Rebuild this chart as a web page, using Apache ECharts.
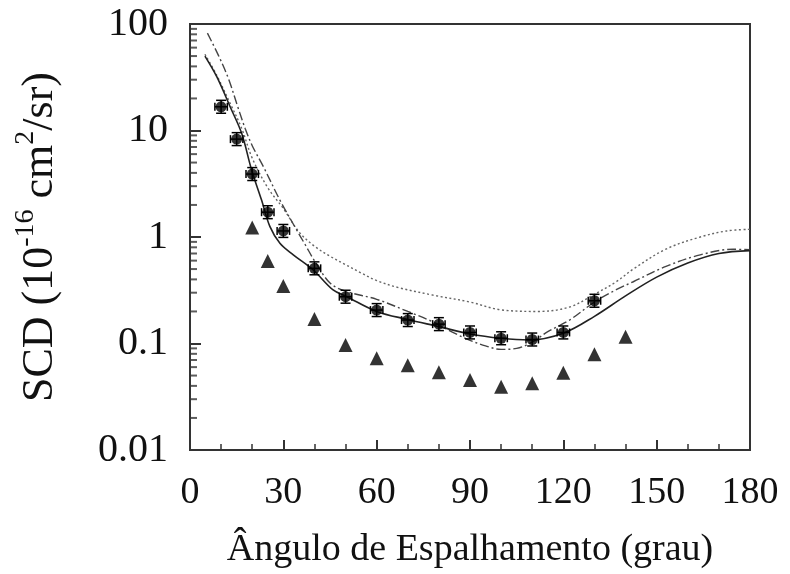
<!DOCTYPE html>
<html>
<head>
<meta charset="utf-8">
<script src="https://cdn.jsdelivr.net/npm/echarts@6/dist/echarts.min.js"></script>
<style>html,body{margin:0;padding:0;background:#fff;}#c{width:790px;height:574px;}</style>
</head>
<body>
<div id="c"></div>
<script>
// ---- data ----
const xTickLabels = ['0','30','60','90','120','150','180'];
const yTickLabels = ['0.01','0.1','1','10','100'];

const expAngle = [10,15,20,25,30,40,50,60,70,80,90,100,110,120,130];
const expScd   = [16.7,8.3,3.9,1.71,1.14,0.508,0.275,0.206,0.166,0.152,0.127,0.112,0.109,0.127,0.252];
const expErr   = [0.15,0.15,0.15,0.15,0.15,0.15,0.15,0.15,0.15,0.15,0.15,0.15,0.15,0.15,0.15];

const triAngle = [20,25,30,40,50,60,70,80,90,100,110,120,130,140];
const triScd   = [1.23,0.595,0.347,0.170,0.0968,0.0727,0.0624,0.0537,0.0454,0.0393,0.0423,0.0532,0.0794,0.116];

const solidAngle = [4.8,8.6,12.9,16.6,19.8,23,25.7,28.9,33.2,39.6,46,50.4,60,70,80,90,100,109,120,130,140,150,160,170,180];
const solidScd   = [50,32,16.7,9.4,4.26,2.22,1.25,0.873,0.68,0.49,0.318,0.275,0.2,0.168,0.144,0.123,0.112,0.108,0.125,0.18,0.28,0.42,0.57,0.7,0.745];

const dotAngle = [4.8,8.6,12.9,16.6,20,25,30,35,40,45,50,55,60,67,78,90,100,112,122,130,137,142.5,153,164,172.5,180];
const dotScd   = [52,33,18,10.5,5.5,2.9,1.85,1.12,0.82,0.66,0.55,0.46,0.39,0.335,0.285,0.245,0.207,0.2,0.22,0.29,0.38,0.5,0.77,1.0,1.14,1.18];

const ddAngle = [5.6,9.1,12.3,15.5,17.7,20,23.6,28.9,34.3,37,40,45,50,60,70,78,85,90,95,100,105,110,115,122,130,137,142.5,153,164,174.6,180];
const ddScd   = [82,51,31,16.2,10.5,7.2,4.57,2.22,1.16,0.85,0.6,0.37,0.31,0.26,0.2,0.16,0.125,0.107,0.095,0.088,0.09,0.103,0.129,0.166,0.245,0.32,0.38,0.53,0.68,0.767,0.76];

const minorTickVals = [];
[0.01,0.1,1,10].forEach(d => { for (let k = 2; k <= 9; k++) minorTickVals.push(+(d*k).toPrecision(3)); });

// ---- build ----
const zip = (a, b) => a.map((v, i) => [v, b[i]]);
const FONT = 'Liberation Serif';
const AX = '#333';

const chart = echarts.init(document.getElementById('c'), null, {renderer: 'canvas'});
chart.setOption({
  animation: false,
  backgroundColor: '#fff',
  grid: {left: 190, right: 40, top: 24, bottom: 124, show: true, borderColor: AX, borderWidth: 2, backgroundColor: 'transparent'},
  xAxis: {
    type: 'value', min: 0, max: 180, interval: 30,
    axisLine: {show: true, lineStyle: {color: AX, width: 2}},
    axisTick: {show: true, inside: true, length: 10, lineStyle: {color: AX, width: 2}},
    minorTick: {show: true, splitNumber: 3, length: 6, lineStyle: {color: AX, width: 1.5}},
    splitLine: {show: false},
    axisLabel: {fontFamily: FONT, fontSize: 38, color: '#111', margin: 24,
      formatter: v => xTickLabels[Math.round(v / 30)]},
    name: 'Ângulo de Espalhamento (grau)', nameLocation: 'middle', nameGap: 81,
    nameTextStyle: {fontFamily: FONT, fontSize: 38, color: '#111'}
  },
  yAxis: {
    type: 'log', logBase: 10, min: 0.01, max: 100,
    axisLine: {show: true, lineStyle: {color: AX, width: 2}},
    axisTick: {show: true, inside: true, length: 11, lineStyle: {color: AX, width: 2}},
    splitLine: {show: false},
    axisLabel: {fontFamily: FONT, fontSize: 40, color: '#111', margin: 22,
      formatter: v => yTickLabels[Math.round(Math.log10(v)) + 2]},
    name: '{a|SCD (10}{s|-16}{a| cm}{s|2}{a|/sr)}', nameLocation: 'middle', nameGap: 128, nameRotate: 90,
    nameTextStyle: {
      rich: {
        a: {fontFamily: FONT, fontSize: 44, color: '#111', lineHeight: 50, verticalAlign: 'bottom'},
        s: {fontFamily: FONT, fontSize: 28, color: '#111', lineHeight: 50, verticalAlign: 'top'}
      }
    }
  },
  series: [
    {type: 'scatter', name: 'minorTicks', silent: true, z: 10, clip: false,
      data: minorTickVals.map(v => [0, v]),
      symbol: 'rect', symbolSize: [7, 2], symbolOffset: [3.5, 0],
      itemStyle: {color: '#333'}},
    {type: 'line', name: 'dotted', data: zip(dotAngle, dotScd), showSymbol: false, smooth: 0.35,
      lineStyle: {color: '#666', width: 1.4, type: [2, 2.5]}, z: 2},
    {type: 'line', name: 'dashdot', data: zip(ddAngle, ddScd), showSymbol: false, smooth: 0.35,
      lineStyle: {color: '#444', width: 1.4, type: [9, 3, 2, 3]}, z: 2},
    {type: 'line', name: 'solid', data: zip(solidAngle, solidScd), showSymbol: false, smooth: 0.35,
      lineStyle: {color: '#222', width: 1.6}, z: 3},
    {type: 'custom', name: 'errbars', z: 4,
      data: expAngle.map((a, i) => [a, expScd[i], expErr[i]]),
      renderItem: (params, api) => {
        const x = api.value(0), y = api.value(1), e = api.value(2);
        const top = api.coord([x, y * (1 + e)]);
        const bot = api.coord([x, y / (1 + e)]);
        const l = api.coord([x - 2, y]);
        const r = api.coord([x + 2, y]);
        const st = {stroke: '#000', lineWidth: 1.5};
        const cw = 5;
        return {type: 'group', children: [
          {type: 'line', shape: {x1: top[0], y1: top[1], x2: bot[0], y2: bot[1]}, style: st},
          {type: 'line', shape: {x1: top[0] - cw, y1: top[1], x2: top[0] + cw, y2: top[1]}, style: st},
          {type: 'line', shape: {x1: bot[0] - cw, y1: bot[1], x2: bot[0] + cw, y2: bot[1]}, style: st},
          {type: 'line', shape: {x1: l[0], y1: l[1], x2: r[0], y2: r[1]}, style: st},
          {type: 'line', shape: {x1: l[0], y1: l[1] - 4, x2: l[0], y2: l[1] + 4}, style: st},
          {type: 'line', shape: {x1: r[0], y1: r[1] - 4, x2: r[0], y2: r[1] + 4}, style: st}
        ]};
      }},
    {type: 'scatter', name: 'exp', data: zip(expAngle, expScd), symbol: 'circle', symbolSize: 11,
      itemStyle: {color: '#000'}, z: 5},
    {type: 'scatter', name: 'tri', data: zip(triAngle, triScd), symbol: 'triangle', symbolSize: 14,
      itemStyle: {color: '#000'}, z: 5}
  ]
});
</script>
</body>
</html>
